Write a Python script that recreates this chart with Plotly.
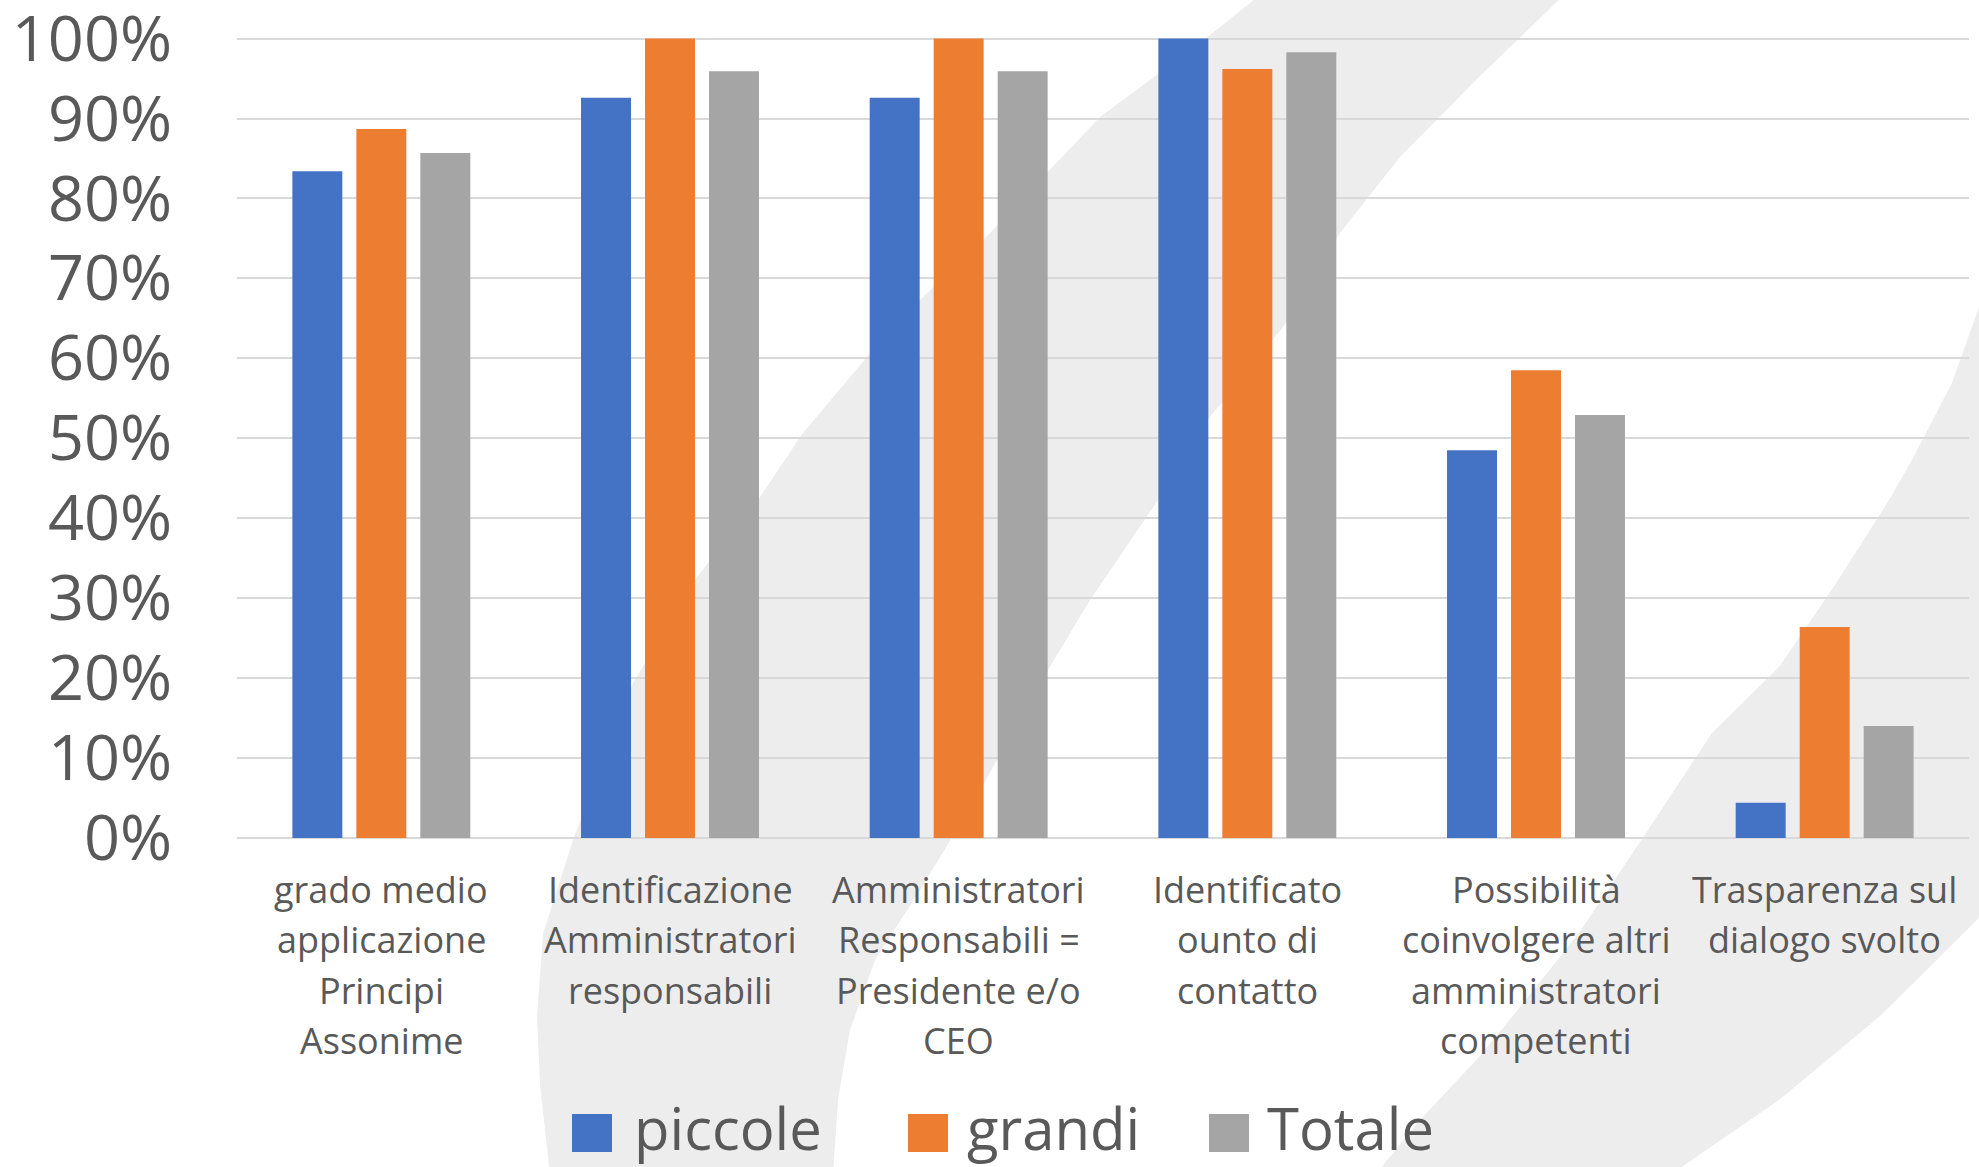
import plotly.graph_objects as go

# ---- data -------------------------------------------------------------
categories = [
    "grado medio applicazione Principi Assonime",
    "Identificazione Amministratori responsabili",
    "Amministratori Responsabili = Presidente e/o CEO",
    "Identificato ounto di contatto",
    "Possibilità coinvolgere altri amministratori competenti",
    "Trasparenza sul dialogo svolto",
]
category_lines = [
    ["grado medio", "applicazione", "Principi", "Assonime"],
    ["Identificazione", "Amministratori", "responsabili"],
    ["Amministratori", "Responsabili =", "Presidente e/o", "CEO"],
    ["Identificato", "ounto di", "contatto"],
    ["Possibilità", "coinvolgere altri", "amministratori", "competenti"],
    ["Trasparenza sul", "dialogo svolto"],
]
piccole = [0.834, 0.926, 0.926, 1.000, 0.485, 0.044]
grandi = [0.887, 1.000, 1.000, 0.962, 0.585, 0.264]
totale = [0.857, 0.959, 0.959, 0.983, 0.529, 0.140]
series_names = ["piccole", "grandi", "Totale"]
y_ticks = [0.0, 0.1, 0.2, 0.3, 0.4, 0.5, 0.6, 0.7, 0.8, 0.9, 1.0]

# ---- style ------------------------------------------------------------
W, H = 1979, 1167
Y_MAX = 1.002
ML, MR, MT, MB = 237, 10, 37, 329
COLORS = ["#4472C4", "#ED7D31", "#A5A5A5"]
TEXT = "#595959"
GRID = "#D9D9D9"
BAND = "#EDEDED"
FONT = "Open Sans"

PW, PH = W - ML - MR, H - MT - MB


def px(x):
    return (x - ML) / PW


def py(y):
    return (H - MB - y) / PH


def band_path(points):
    pts = [f"{px(x):.5f},{py(y):.5f}" for x, y in points]
    return "M " + " L ".join(pts) + " Z"


fig = go.Figure()
for name, vals, col in zip(series_names, [piccole, grandi, totale], COLORS):
    fig.add_trace(go.Bar(
        x=categories, y=vals, name=name,
        marker=dict(color=col, line=dict(width=0)),
        showlegend=False,
    ))

# decorative watermark bands behind the plot
band_a = [
    (1260, -5), (1200, 43), (1100, 117), (990, 233), (920, 300), (867, 357),
    (803, 433), (758, 500), (697, 577), (633, 683), (573, 840), (543, 934),
    (537, 1017), (540, 1084), (550, 1175),
    (833, 1175), (838, 1100), (850, 1030), (875, 960), (920, 890),
    (975, 800), (1030, 700), (1090, 600), (1158, 500), (1210, 417),
    (1283, 327), (1340, 233), (1400, 157), (1479, 77), (1564, -5),
]
band_b = [
    (1985, 290), (1952, 383), (1912, 460), (1889, 500), (1835, 585),
    (1779, 667), (1712, 733), (1646, 833), (1579, 933), (1512, 1017),
    (1479, 1057), (1420, 1120), (1375, 1175),
    (1670, 1175), (1779, 1100), (1879, 1017), (1985, 912),
]
shapes = []
for pts in (band_a, band_b):
    shapes.append(dict(type="path", xref="paper", yref="paper",
                       path=band_path(pts), fillcolor=BAND,
                       line=dict(width=0), layer="below"))

annotations = []

# category labels, one annotation per line for Excel-like line spacing
LINE0, LINE_STEP = 889, 50.5
for cat, lines in zip(categories, category_lines):
    for i, line in enumerate(lines):
        annotations.append(dict(
            xref="x", yref="paper", x=cat, y=py(LINE0 + i * LINE_STEP),
            xanchor="center", yanchor="middle", showarrow=False, text=line,
            font=dict(family=FONT, size=36, color=TEXT)))

# legend drawn as swatches + labels
legend_items = [(572, 633), (908, 966), (1209, 1266)]
for (sx, tx), name, col in zip(legend_items, series_names, COLORS):
    shapes.append(dict(type="rect", xref="paper", yref="paper",
                       x0=px(sx), x1=px(sx + 40), y0=py(1152), y1=py(1114),
                       fillcolor=col, line=dict(width=0), layer="above"))
    annotations.append(dict(xref="paper", yref="paper", x=px(tx), y=py(1127),
                            xanchor="left", yanchor="middle", showarrow=False,
                            borderpad=0,
                            text=name, font=dict(family=FONT, size=58, color=TEXT)))

fig.update_layout(
    width=W, height=H,
    margin=dict(l=ML, r=MR, t=MT, b=MB, autoexpand=False),
    paper_bgcolor="white", plot_bgcolor="rgba(0,0,0,0)",
    barmode="group", bargap=0.335, bargroupgap=0.219,
    shapes=shapes, annotations=annotations,
    showlegend=False,
)
fig.update_yaxes(
    range=[0, Y_MAX], tickvals=y_ticks, tickformat=".0%",
    showgrid=True, gridcolor=GRID, gridwidth=2,
    zeroline=True, zerolinecolor=GRID, zerolinewidth=2,
    showline=False, ticks="", automargin=False,
    tickfont=dict(family=FONT, size=63, color=TEXT),
    ticklabelstandoff=64, ticklabeloverflow="allow",
)
fig.update_xaxes(
    showgrid=False, showline=False, ticks="", showticklabels=False,
    automargin=False,
)

fig.write_html("out.html")
